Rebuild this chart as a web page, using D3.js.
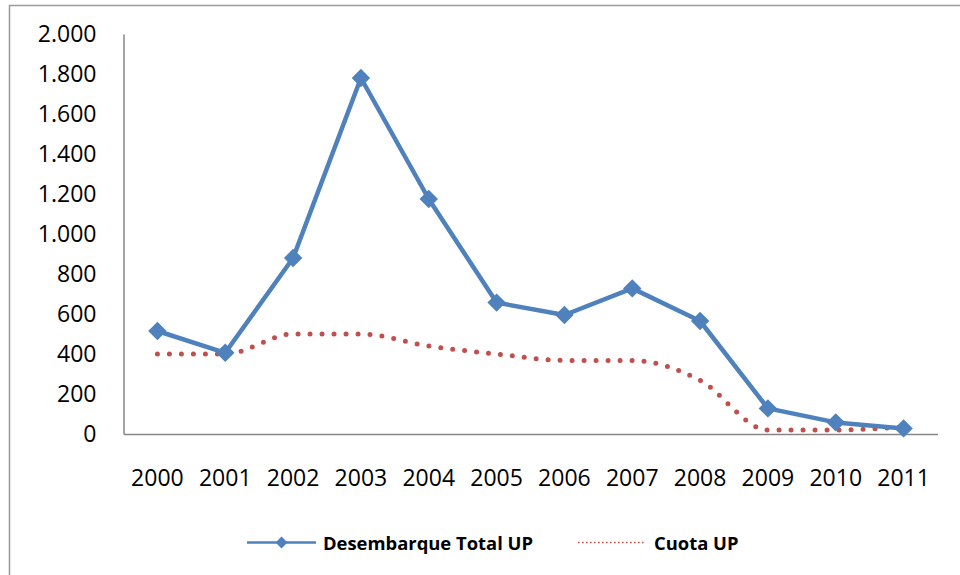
<!DOCTYPE html>
<html lang="es">
<head>
<meta charset="UTF-8">
<script src="https://d3js.org/d3.v7.min.js"></script>
<style>
    body { margin: 0; background: #fff; }
    svg { display: block; font-family: "Open Sans", sans-serif; }
    .axis text { font-size: 23px; fill: #000; }
    .axis path { stroke: #868686; stroke-width: 1.5px; }
    .legend text { font-size: 18.4px; font-weight: bold; fill: #000; }
</style>
</head>
<body>
<div id="chart"></div>
<script>
    const years = ["2000", "2001", "2002", "2003", "2004", "2005", "2006", "2007", "2008", "2009", "2010", "2011"];
    const desembarque = [515, 406, 880, 1780, 1175, 657, 595, 728, 565, 128, 58, 28];
    const cuota = [400, 400, 500, 500, 440, 400, 368, 368, 268, 20, 20, 35];
    const yTicks = [0, 200, 400, 600, 800, 1000, 1200, 1400, 1600, 1800, 2000];
    const seriesNames = ["Desembarque Total UP", "Cuota UP"];

    const width = 960, height = 575;
    const margin = { top: 34, right: 22.5, bottom: 141, left: 123.5 };

    const blue = "#4F81BD", red = "#C0504D";

    const svg = d3.select("#chart").append("svg")
        .attr("width", width)
        .attr("height", height);

    // chart frame (runs off the right and bottom edge)
    svg.append("rect")
        .attr("x", 9.5).attr("y", 5.5)
        .attr("width", 1000).attr("height", 1000)
        .attr("fill", "none")
        .attr("stroke", "#999")
        .attr("stroke-width", 1.5);

    const x = d3.scaleBand()
        .domain(years)
        .range([margin.left, width - margin.right])
        .padding(0);

    const y = d3.scaleLinear()
        .domain([0, 2000])
        .range([height - margin.bottom, margin.top]);

    const esLocale = d3.formatLocale({ decimal: ",", thousands: ".", grouping: [3], currency: ["", ""] });
    const fmt = esLocale.format(",");

    const cx = d => x(d) + x.bandwidth() / 2;

    svg.append("g")
        .attr("class", "axis")
        .attr("transform", `translate(${margin.left},0)`)
        .call(d3.axisLeft(y).tickValues(yTicks).tickFormat(fmt).tickSize(0).tickPadding(27))
        .call(g => g.selectAll("text").attr("font-family", "Open Sans"));

    svg.append("g")
        .attr("class", "axis")
        .attr("transform", `translate(0,${height - margin.bottom})`)
        .call(d3.axisBottom(x).tickSize(0).tickPadding(36))
        .call(g => g.selectAll("text").attr("font-family", "Open Sans"));

    // Cuota UP (smoothed dotted)
    const cuotaLine = d3.line()
        .x((d, i) => cx(years[i]))
        .y(d => y(d))
        .curve(d3.curveMonotoneX);

    svg.append("path")
        .datum(cuota)
        .attr("d", cuotaLine)
        .attr("fill", "none")
        .attr("stroke", red)
        .attr("stroke-width", 5)
        .attr("stroke-linecap", "round")
        .attr("stroke-dasharray", "0 12");

    // Desembarque Total UP
    const desLine = d3.line()
        .x((d, i) => cx(years[i]))
        .y(d => y(d));

    svg.append("path")
        .datum(desembarque)
        .attr("d", desLine)
        .attr("fill", "none")
        .attr("stroke", blue)
        .attr("stroke-width", 4.5)
        .attr("stroke-linejoin", "round");

    const diamond = d3.symbol().type(d3.symbolSquare).size(170);

    svg.selectAll(".marker")
        .data(desembarque)
        .join("path")
        .attr("class", "marker")
        .attr("d", diamond)
        .attr("transform", (d, i) => `translate(${cx(years[i])},${y(d)}) rotate(45)`)
        .attr("fill", blue);

    // legend
    const legend = svg.append("g").attr("class", "legend");
    const ly = 542.5;

    legend.append("line")
        .attr("x1", 247).attr("x2", 316)
        .attr("y1", ly).attr("y2", ly)
        .attr("stroke", blue).attr("stroke-width", 2.5);
    legend.append("path")
        .attr("d", d3.symbol().type(d3.symbolSquare).size(70))
        .attr("transform", `translate(281.5,${ly}) rotate(45)`)
        .attr("fill", blue);
    legend.append("text")
        .attr("x", 323).attr("y", ly + 7)
        .text(seriesNames[0]);

    legend.append("line")
        .attr("x1", 578).attr("x2", 644)
        .attr("y1", ly).attr("y2", ly)
        .attr("stroke", red).attr("stroke-width", 1.6)
        .attr("stroke-dasharray", "1.6 2.4");
    legend.append("text")
        .attr("x", 654).attr("y", ly + 7)
        .text(seriesNames[1]);
</script>
</body>
</html>
